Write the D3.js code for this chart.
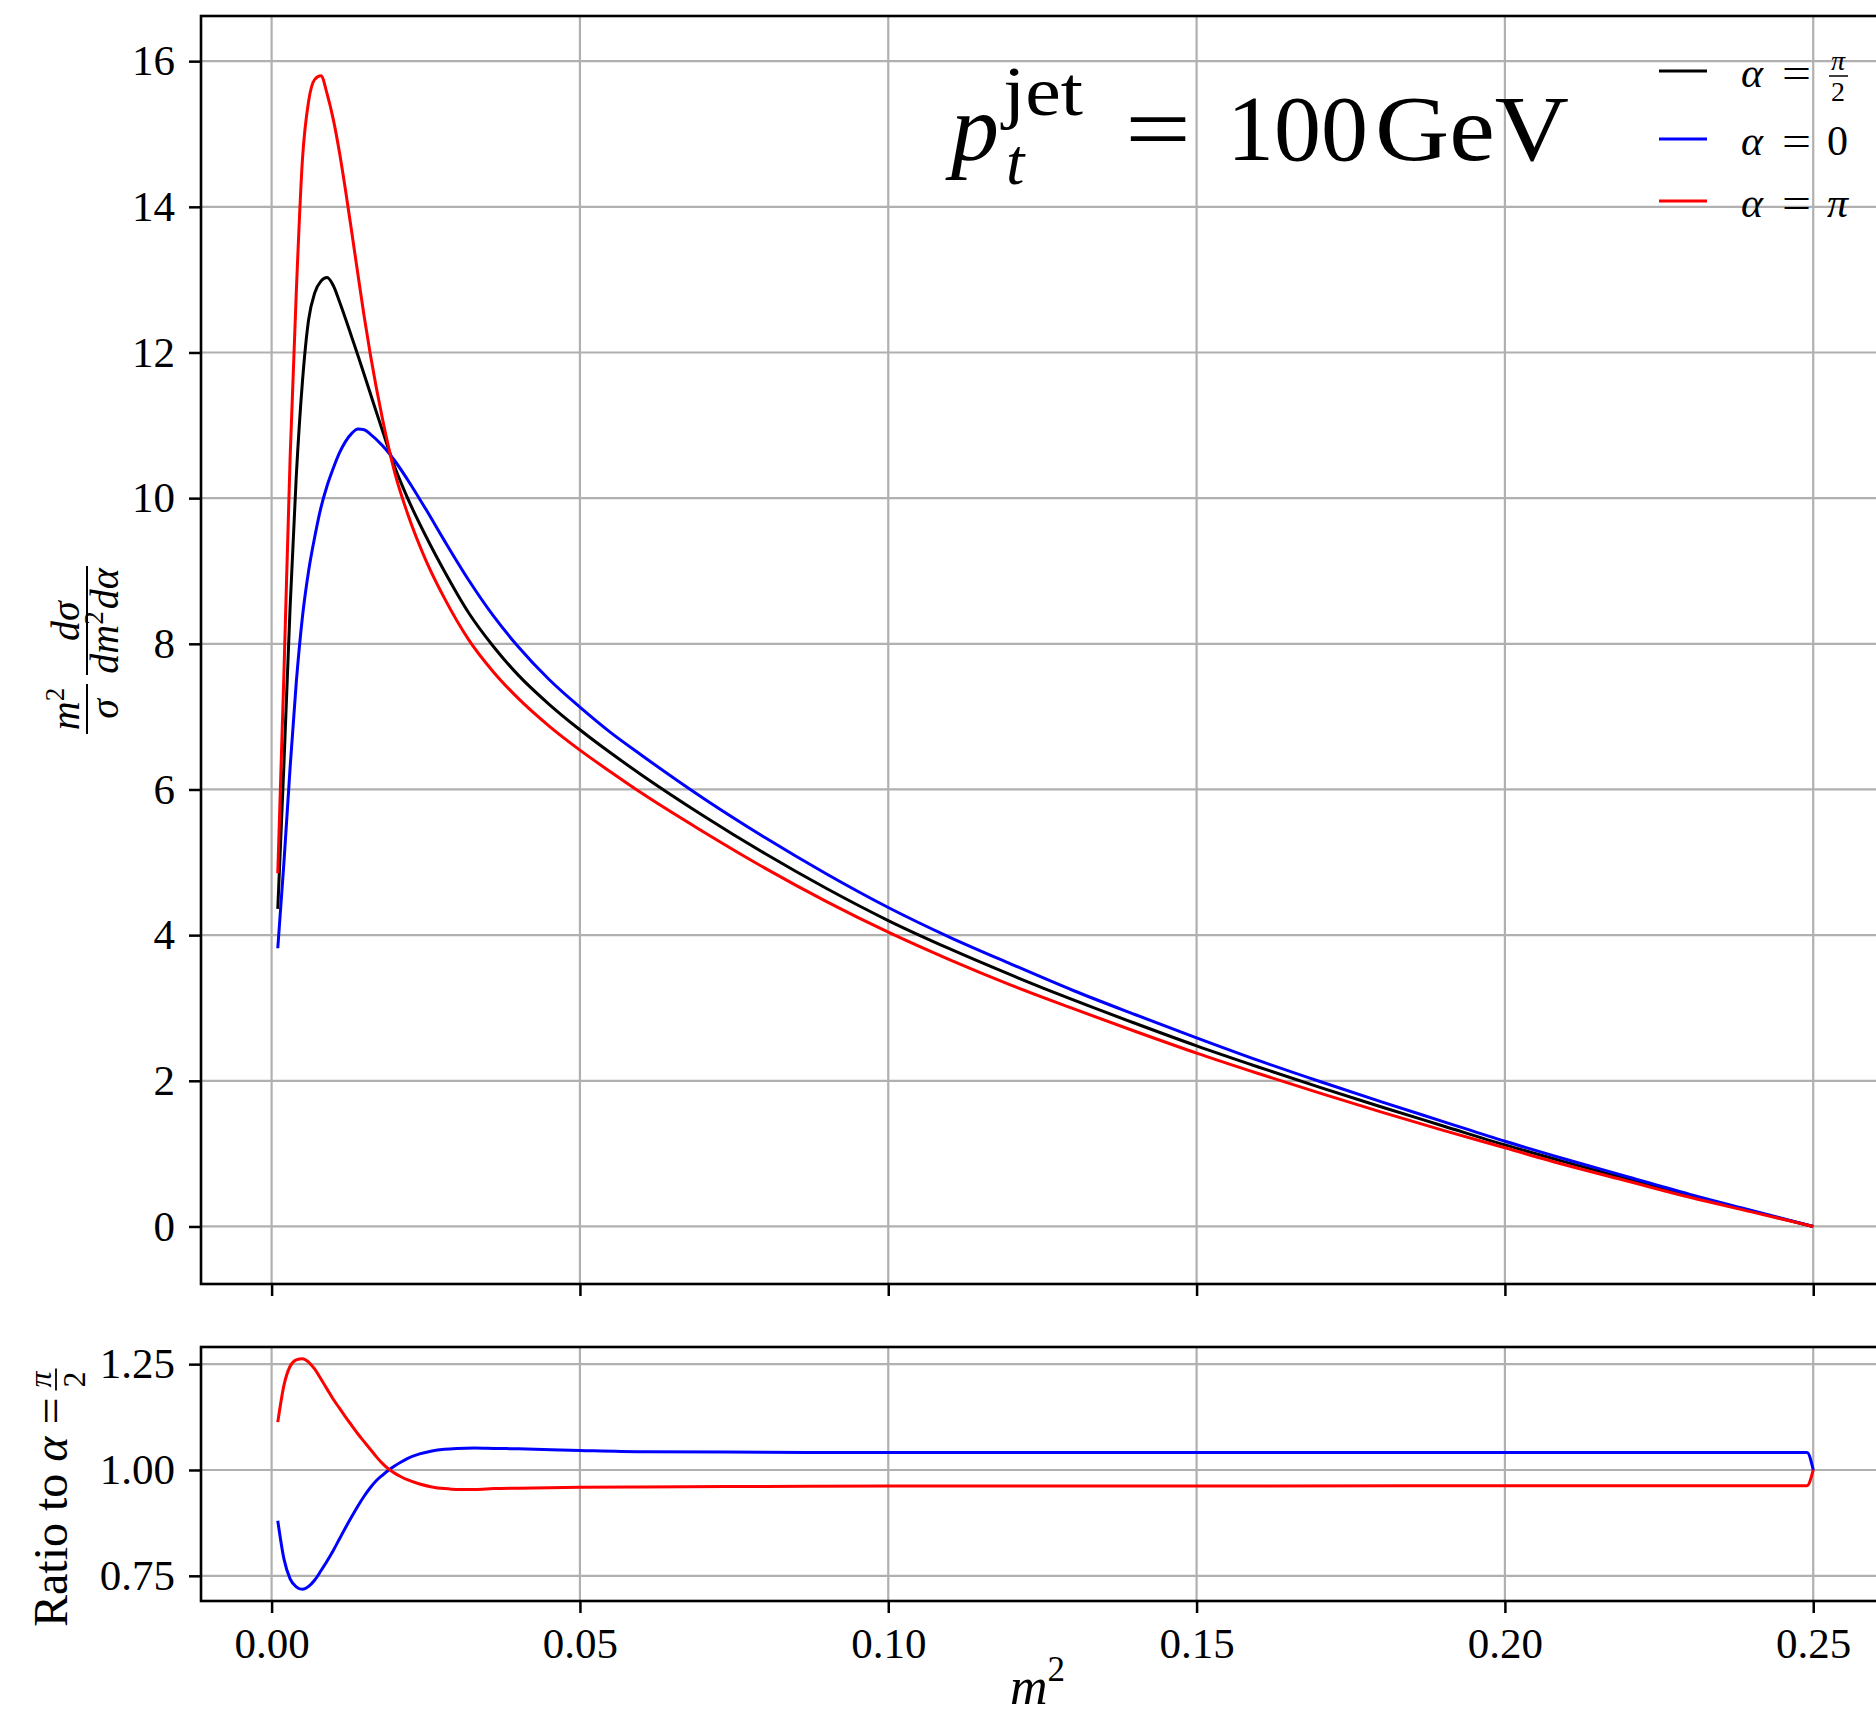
<!DOCTYPE html>
<html>
<head>
<meta charset="utf-8">
<script src="https://cdnjs.cloudflare.com/ajax/libs/d3/7.8.5/d3.min.js"></script>
<style>
	body { margin: 0; background: #fff; }
	svg { display: block; font-family: "Liberation Serif", "DejaVu Serif", serif; }
</style>
</head>
<body>
<div id="chart"></div>
<script>
// m^2 sample points shared by the three distributions
const m2 = [0.001, 0.002, 0.003, 0.004, 0.005, 0.006, 0.007, 0.008, 0.009, 0.010,
	0.011, 0.012, 0.013, 0.014, 0.015, 0.016, 0.018, 0.020, 0.022, 0.025,
	0.028, 0.032, 0.036, 0.040, 0.045, 0.050, 0.055, 0.060, 0.070, 0.080,
	0.090, 0.10, 0.11, 0.12, 0.13, 0.14, 0.15, 0.16, 0.17, 0.18,
	0.19, 0.20, 0.21, 0.22, 0.23, 0.24, 0.25];

const alphaHalfPi = [4.36, 6.35, 8.5, 10.3, 11.6, 12.45, 12.82, 12.98, 13.03, 12.92,
	12.70, 12.46, 12.21, 11.96, 11.70, 11.44, 10.92, 10.42, 10.01, 9.48,
	9.00, 8.42, 7.96, 7.57, 7.17, 6.82, 6.50, 6.20, 5.64, 5.12,
	4.64, 4.20, 3.81, 3.45, 3.11, 2.79, 2.48, 2.19, 1.91, 1.64,
	1.38, 1.12, 0.88, 0.65, 0.42, 0.21, 0];

const alphaZero = [3.82, 5.0, 6.3, 7.47, 8.37, 9.0, 9.47, 9.87, 10.17, 10.41,
	10.62, 10.78, 10.89, 10.95, 10.94, 10.88, 10.72, 10.51, 10.26, 9.85,
	9.42, 8.87, 8.38, 7.96, 7.51, 7.13, 6.78, 6.47, 5.88, 5.34,
	4.84, 4.38, 3.97, 3.60, 3.24, 2.91, 2.59, 2.28, 1.99, 1.71,
	1.44, 1.17, 0.92, 0.68, 0.44, 0.22, 0];

const alphaPi = [4.85, 7.6, 10.55, 12.82, 14.65, 15.45, 15.75, 15.80, 15.55, 15.2,
	14.75, 14.22, 13.65, 13.07, 12.50, 11.98, 11.08, 10.34, 9.80, 9.15,
	8.63, 8.05, 7.61, 7.25, 6.87, 6.54, 6.24, 5.95, 5.42, 4.92,
	4.46, 4.04, 3.66, 3.31, 2.99, 2.68, 2.38, 2.10, 1.83, 1.57,
	1.32, 1.08, 0.84, 0.62, 0.40, 0.20, 0];

// ratio panel (to alpha = pi/2)
const m2Ratio = [0.001, 0.002, 0.003, 0.004, 0.005, 0.006, 0.007, 0.008, 0.009, 0.010,
	0.011, 0.012, 0.013, 0.014, 0.015, 0.016, 0.017, 0.018, 0.019, 0.020,
	0.021, 0.022, 0.024, 0.026, 0.028, 0.030, 0.033, 0.036, 0.040, 0.050,
	0.060, 0.080, 0.10, 0.15, 0.20, 0.249, 0.25];

const ratioZero = [0.880, 0.790, 0.743, 0.724, 0.718, 0.725, 0.740, 0.762, 0.785, 0.810,
	0.837, 0.864, 0.890, 0.915, 0.938, 0.958, 0.975, 0.988, 1.000, 1.010,
	1.019, 1.027, 1.038, 1.045, 1.049, 1.051, 1.052, 1.051, 1.050, 1.046,
	1.043, 1.042, 1.041, 1.041, 1.041, 1.041, 1.0];

const ratioPi = [1.113, 1.200, 1.245, 1.260, 1.263, 1.255, 1.238, 1.215, 1.191, 1.167,
	1.146, 1.125, 1.105, 1.085, 1.067, 1.049, 1.031, 1.015, 1.002, 0.992,
	0.984, 0.977, 0.967, 0.960, 0.956, 0.954, 0.954, 0.956, 0.957, 0.959,
	0.960, 0.961, 0.962, 0.962, 0.963, 0.963, 1.0];

const xTicks = [0, 0.05, 0.10, 0.15, 0.20, 0.25];
const yTicksMain = [0, 2, 4, 6, 8, 10, 12, 14, 16];
const yTicksRatio = [0.75, 1.00, 1.25];
const legendValues = ["π/2", "0", "π"];
const seriesColors = ["#000000", "#0000ff", "#ff0000"];

const W = 1876, H = 1720;
const left = 201, right = 1890;
const mainTop = 16, mainBottom = 1284;
const ratioTop = 1347, ratioBottom = 1601;
const tickFont = 43;

const svg = d3.select("#chart").append("svg")
	.attr("width", W)
	.attr("height", H);

const x = d3.scaleLinear().domain([-0.01145, 0.26245]).range([left, right]);
const y = d3.scaleLinear().domain([-0.79, 16.62]).range([mainBottom, mainTop]);
const yR = d3.scaleLinear().domain([0.6905, 1.2905]).range([ratioBottom, ratioTop]);

function grid(yScale, yTicks, top, bottom) {
	const g = svg.append("g").attr("stroke", "#b0b0b0").attr("stroke-width", 2.2);
	g.selectAll("line.gx").data(xTicks).enter().append("line")
		.attr("x1", d => x(d)).attr("x2", d => x(d))
		.attr("y1", top).attr("y2", bottom);
	g.selectAll("line.gy").data(yTicks).enter().append("line")
		.attr("x1", left).attr("x2", right)
		.attr("y1", yScale).attr("y2", yScale);
}

function styleAxis(g) {
	g.select(".domain").remove();
	g.selectAll(".tick line").attr("stroke", "#000").attr("stroke-width", 2.5);
	g.selectAll(".tick text")
		.attr("fill", "#000")
		.style("font-family", "'Liberation Serif', serif")
		.style("font-size", tickFont + "px");
}

grid(y, yTicksMain, mainTop, mainBottom);
grid(yR, yTicksRatio, ratioTop, ratioBottom);

// curves
const line = (xs, scaleY) => d3.line()
	.x((d, i) => x(xs[i]))
	.y(d => scaleY(d))
	.curve(d3.curveMonotoneX);

[alphaHalfPi, alphaZero, alphaPi].forEach((s, i) => {
	svg.append("path")
		.attr("d", line(m2, y)(s))
		.attr("fill", "none")
		.attr("stroke", seriesColors[i])
		.attr("stroke-width", 3)
		.attr("stroke-linejoin", "round");
});

[ratioZero, ratioPi].forEach((s, i) => {
	svg.append("path")
		.attr("d", line(m2Ratio, yR)(s))
		.attr("fill", "none")
		.attr("stroke", seriesColors[i + 1])
		.attr("stroke-width", 3)
		.attr("stroke-linejoin", "round");
});

// spines (right edge falls outside the picture)
[[mainTop, mainBottom], [ratioTop, ratioBottom]].forEach(([t, b]) => {
	svg.append("rect")
		.attr("x", left).attr("y", t)
		.attr("width", right - left).attr("height", b - t)
		.attr("fill", "none")
		.attr("stroke", "#000")
		.attr("stroke-width", 2.6);
});

// axes
svg.append("g")
	.attr("transform", "translate(" + left + ",0)")
	.call(d3.axisLeft(y).tickValues(yTicksMain).tickSize(12).tickPadding(14).tickFormat(d3.format("d")))
	.call(styleAxis);

svg.append("g")
	.attr("transform", "translate(0," + mainBottom + ")")
	.call(d3.axisBottom(x).tickValues(xTicks).tickSize(12).tickFormat(""))
	.call(styleAxis);

svg.append("g")
	.attr("transform", "translate(" + left + ",0)")
	.call(d3.axisLeft(yR).tickValues(yTicksRatio).tickSize(12).tickPadding(14).tickFormat(d3.format(".2f")))
	.call(styleAxis);

svg.append("g")
	.attr("transform", "translate(0," + ratioBottom + ")")
	.call(d3.axisBottom(x).tickValues(xTicks).tickSize(12).tickPadding(14).tickFormat(d3.format(".2f")))
	.call(styleAxis);

// helper for plain text
function txt(parent, s, px, py, size, opts = {}) {
	const t = parent.append("text")
		.attr("x", px).attr("y", py)
		.attr("font-size", size)
		.attr("font-style", opts.italic ? "italic" : "normal")
		.attr("text-anchor", opts.anchor || "start")
		.attr("fill", "#000")
		.text(s);
	if (opts.len) {
		t.attr("textLength", opts.len).attr("lengthAdjust", opts.adjust || "spacingAndGlyphs");
	}
	return t;
}

// title  p_t^jet = 100 GeV
const title = svg.append("g");
txt(title, "p", 951, 160, 96, {italic: true});
txt(title, "jet", 1003, 115, 70, {len: 80});
txt(title, "t", 1006, 184, 66, {italic: true});
txt(title, "=", 1125, 160, 94, {len: 66});
txt(title, "100", 1227, 160, 94);
txt(title, "GeV", 1375, 160, 94, {len: 194});

// legend (no frame)
const legend = svg.append("g");
const legendY = [71, 139, 201];
legendValues.forEach((v, i) => {
	legend.append("line")
		.attr("x1", 1659).attr("x2", 1707)
		.attr("y1", legendY[i]).attr("y2", legendY[i])
		.attr("stroke", seriesColors[i]).attr("stroke-width", 3);
	const base = legendY[i] + 16;
	txt(legend, "α", 1741, base, 42, {italic: true});
	txt(legend, "=", 1782, base, 42, {len: 29});
	if (v === "π/2") {
		txt(legend, "π", 1838, legendY[i] - 1, 28, {italic: true, anchor: "middle"});
		legend.append("line")
			.attr("x1", 1829).attr("x2", 1848)
			.attr("y1", legendY[i] + 5).attr("y2", legendY[i] + 5)
			.attr("stroke", "#000").attr("stroke-width", 1.5);
		txt(legend, "2", 1838, legendY[i] + 30, 28, {anchor: "middle"});
	} else {
		txt(legend, v, 1827, base, 42, {italic: v === "π"});
	}
});

// y label of main panel:  m^2/sigma  dsigma/(dm^2 dalpha)
const yl = svg.append("g").attr("transform", "translate(87,650) rotate(-90)");
const f1 = txt(yl, "m", -59, -8, 40, {italic: true, anchor: "middle"});
f1.append("tspan").attr("font-style", "normal").attr("font-size", 27).attr("dy", -15).text("2");
yl.append("line").attr("x1", -84).attr("x2", -34).attr("y1", 0).attr("y2", 0)
	.attr("stroke", "#000").attr("stroke-width", 2);
txt(yl, "σ", -59, 31, 40, {italic: true, anchor: "middle"});
txt(yl, "dσ", 29, -8, 40, {italic: true, anchor: "middle"});
yl.append("line").attr("x1", -25).attr("x2", 84).attr("y1", 0).attr("y2", 0)
	.attr("stroke", "#000").attr("stroke-width", 2);
const den = txt(yl, "dm", 29, 31, 40, {italic: true, anchor: "middle"});
den.append("tspan").attr("font-style", "normal").attr("font-size", 27).attr("dy", -15).text("2");
den.append("tspan").attr("dy", 15).attr("dx", 2).text("dα");

// y label of ratio panel
const rl = svg.append("g").attr("transform", "translate(67,1627) rotate(-90)");
const rt = txt(rl, "Ratio to ", 0, 0, 48);
rt.append("tspan").attr("font-style", "italic").text("α");
rt.append("tspan").attr("dx", 12).text("=");
const rLen = rt.node().getComputedTextLength();
const fc = rLen + 30;
txt(rl, "π", fc, -16, 32, {italic: true, anchor: "middle"});
rl.append("line").attr("x1", fc - 11).attr("x2", fc + 11).attr("y1", -11).attr("y2", -11)
	.attr("stroke", "#000").attr("stroke-width", 1.8);
txt(rl, "2", fc, 18, 32, {anchor: "middle"});

// x label
const xl = txt(svg, "m", (left + right) / 2 - 8, 1704, 52, {italic: true, anchor: "middle"});
xl.append("tspan").attr("font-style", "normal").attr("font-size", 35).attr("dy", -23).text("2");
</script>
</body>
</html>
